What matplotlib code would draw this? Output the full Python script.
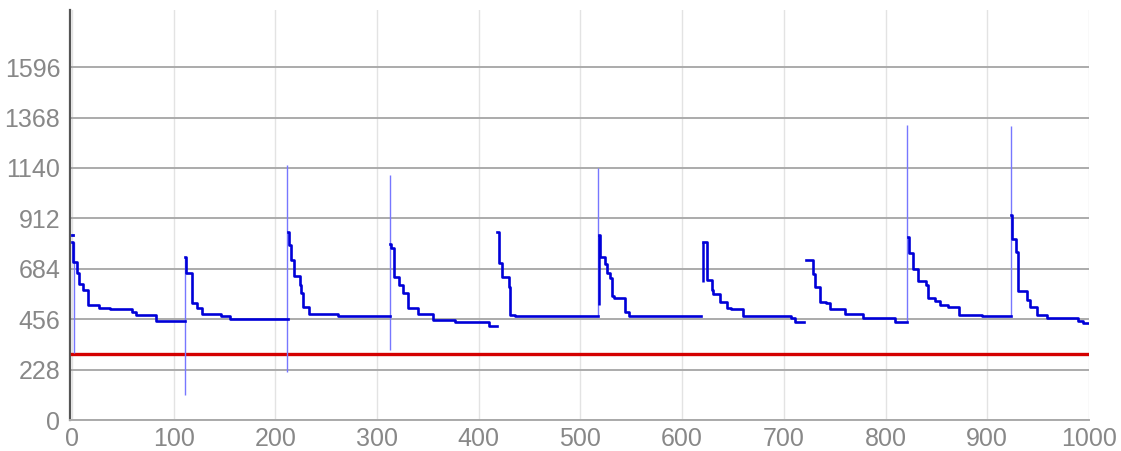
import matplotlib
matplotlib.use("Agg")
import matplotlib.pyplot as plt

plt.rcParams['font.family'] = ['Liberation Sans', 'DejaVu Sans']

# step breakpoints for each cycle (x where level starts, level)
cycles = [
    ([0, 1, 5, 7, 11, 16, 27, 37, 59, 63, 83, 111],
     [806, 713, 664, 615, 588, 518, 508, 500, 490, 476, 449, 449]),
    ([111.5, 112, 118, 123, 128, 147, 155, 212],
     [738, 663, 530, 508, 478, 472, 456, 456]),
    ([212, 213, 215.5, 218, 224, 225.5, 227.5, 233.5, 262, 312.7],
     [851, 791, 723, 651, 610, 575, 512, 478, 472, 472]),
    ([313, 313.7, 317, 321.5, 325.7, 330.7, 340.5, 355, 376.6, 410, 417.6],
     [794, 778, 648, 610, 573, 505, 478, 452, 443, 425, 425]),
    ([418, 419.6, 423, 429.6, 431, 435.6, 517.5],
     [851, 708, 645, 600, 475, 470, 470]),
    ([518, 519, 524, 526.4, 529, 530.7, 533, 543.7, 548, 619],
     [836, 738, 705, 663, 640, 562, 553, 487, 472, 472]),
    ([620.7, 624.6, 629, 630.6, 637, 643.7, 648, 660, 706.6, 711, 720],
     [806, 633, 588, 568, 535, 505, 500, 470, 460, 444, 444]),
    ([721.7, 729, 730.7, 735.5, 741.4, 745.3, 760, 778, 809, 821.4],
     [723, 660, 600, 535, 527, 500, 478, 460, 444, 444]),
    ([821.8, 823.3, 827.2, 832, 840, 842, 848.6, 853.5, 861, 872, 894.5, 923],
     [826, 756, 681, 630, 610, 550, 538, 520, 509, 475, 470, 470]),
    ([923.5, 924, 928.2, 930, 938.7, 942, 949, 959, 989, 994.4, 999],
     [927, 817, 761, 585, 542, 509, 475, 460, 449, 437, 437]),
]

# thin spikes: x, low, high
spike_x = [2, 111.5, 211.7, 312.7, 517.5, 821.4, 923]
spike_lo = [303, 113, 218, 316, 472, 444, 470]
spike_hi = [806, 738, 1153, 1107, 1138, 1333, 1329]

# dark connectors at cycle starts
start_x = [620.7, 517.8]
start_lo = [625, 520]
start_hi = [806, 836]

threshold = 300
yticks = [0, 228, 456, 684, 912, 1140, 1368, 1596]
xticks = list(range(0, 1001, 100))

fig = plt.figure(figsize=(11.21, 4.51), dpi=100)
ax = fig.add_axes([0.0624, 0.0687, 0.909, 0.909])

ax.set_xlim(-2, 1000)
ax.set_ylim(0, 1854)

ax.set_yticks(yticks)
ax.set_xticks(xticks)
ax.yaxis.grid(True, color='#ababab', lw=1.4)
ax.xaxis.grid(True, color='#e3e3e3', lw=1.0)
ax.set_axisbelow(True)

for s in ['top', 'right']:
    ax.spines[s].set_visible(False)
ax.spines['left'].set_color('#555555')
ax.spines['left'].set_linewidth(1.6)
ax.spines['bottom'].set_color('#aaaaaa')
ax.spines['bottom'].set_linewidth(1.4)
ax.tick_params(length=0, labelsize=18, colors='#888888')
ax.tick_params(axis='x', pad=5)
ax.tick_params(axis='y', pad=7)

ax.plot([0, 1000], [threshold, threshold], color='#d40000', lw=2.4, zorder=3)

ax.vlines(spike_x, spike_lo, spike_hi, color='#7777ff', lw=1.0, zorder=4)
ax.vlines(start_x, start_lo, start_hi, color='#0000d8', lw=1.8, zorder=5)

for xs, ys in cycles:
    ax.step(xs, ys, where='post', color='#0000d8', lw=1.9, zorder=5)
# small dot at very start
ax.plot([0, 1], [836, 836], color='#0000d8', lw=2.0, zorder=5)

fig.savefig('out.png', dpi=100)
